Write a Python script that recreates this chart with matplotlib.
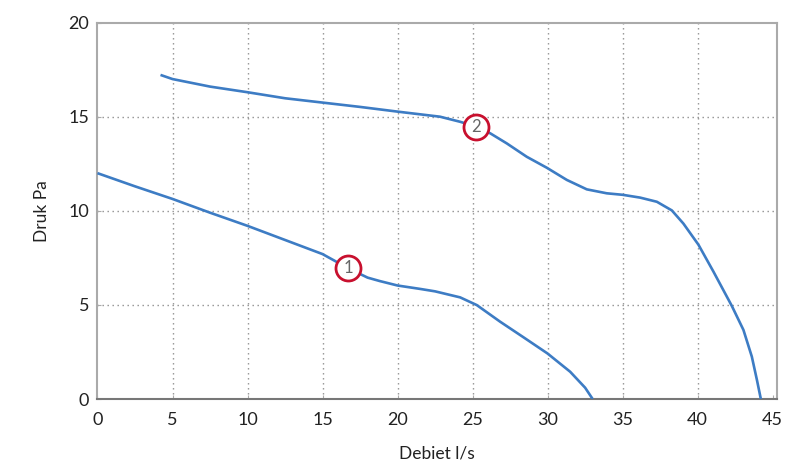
import matplotlib
matplotlib.use("Agg")
import matplotlib.pyplot as plt

plt.rcParams['font.family'] = ['Lato', 'DejaVu Sans']

# Curve 1
x1 = [0, 2.5, 5, 7.5, 10, 12.5, 15, 16.7, 18, 18.8, 20, 21.5, 22.5, 24.17, 25.28, 26.83,
      28.39, 29.99, 31.5, 32.5, 33.0]
y1 = [12.0, 11.3, 10.63, 9.9, 9.2, 8.45, 7.7, 6.95, 6.45, 6.27, 6.03, 5.85, 5.72, 5.40, 4.99, 4.11,
      3.28, 2.42, 1.45, 0.6, 0.0]

# Curve 2
x2 = [4.2, 5, 7.5, 10, 12.5, 15, 17.5, 20, 22.83, 24.17, 25.23, 26.17, 27.28, 28.61, 29.94,
      31.28, 32.61, 33.94, 35.0, 36.17, 37.28, 38.28, 39.05, 40.05, 41.05, 42.28, 43.05,
      43.61, 43.95, 44.21]
y2 = [17.22, 17.0, 16.6, 16.3, 15.98, 15.75, 15.52, 15.27, 15.0, 14.73, 14.47, 14.12, 13.58, 12.87, 12.29,
      11.64, 11.14, 10.93, 10.85, 10.70, 10.48, 10.02, 9.32, 8.2, 6.77, 4.94, 3.67,
      2.25, 1.01, 0.0]

# Curve markers
marker_x = [16.7, 25.23]
marker_y = [6.95, 14.47]
marker_labels = ["1", "2"]

xticks = [0, 5, 10, 15, 20, 25, 30, 35, 40, 45]
yticks = [0, 5, 10, 15, 20]

fig = plt.figure(figsize=(8.05, 4.67), dpi=100)
ax = fig.add_axes([0.1211, 0.1456, 0.9649 - 0.1211, 0.9516 - 0.1456])

line_color = '#3d7cc4'
for xs, ys in [(x1, y1), (x2, y2)]:
    ax.plot(xs, ys, color=line_color, lw=1.9, solid_joinstyle='round',
            solid_capstyle='butt', zorder=3)

for mx, my, lab in zip(marker_x, marker_y, marker_labels):
    ax.plot([mx], [my], marker='o', markersize=18, markerfacecolor='white',
            markeredgecolor='#c8102e', markeredgewidth=2.0, zorder=4, clip_on=False)
    ax.text(mx, my, lab, ha='center', va='center', fontsize=12, color='#666666', zorder=5)

ax.set_xlim(0, 45.27)
ax.set_ylim(0, 20)
ax.set_xticks(xticks)
ax.set_yticks(yticks)

grid_kw = dict(color='#8f8f8f', lw=1.0, ls=(0, (1, 2.6)), zorder=1)
for v in [5, 10, 15, 20, 25, 30, 35, 40]:
    ax.axvline(v, **grid_kw)
for v in [5, 10, 15]:
    ax.axhline(v, **grid_kw)

for s in ['left', 'right', 'top']:
    ax.spines[s].set_color('#aaaaaa')
    ax.spines[s].set_linewidth(1.5)
ax.spines['bottom'].set_color('#777777')
ax.spines['bottom'].set_linewidth(1.5)

ax.tick_params(axis='both', which='both', length=3, direction='in', color='#aaaaaa',
               labelsize=13, labelcolor='#222222')
ax.tick_params(axis='x', pad=9)
ax.tick_params(axis='y', pad=6)

ax.set_xlabel('Debiet l/s', fontsize=12.5, color='#222222', labelpad=13)
ax.set_ylabel('Druk Pa', fontsize=12.5, color='#222222', labelpad=13)

fig.savefig('out.png', dpi=100)
